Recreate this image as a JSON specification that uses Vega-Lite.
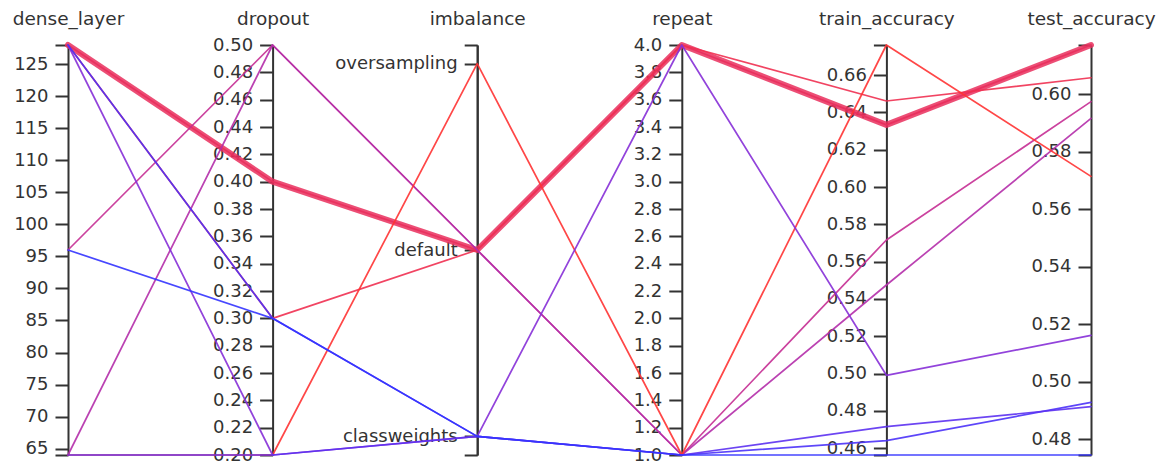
{
  "$schema": "https://vega.github.io/schema/vega-lite/v6.json",
  "width": 1023,
  "height": 410,
  "autosize": {"type": "none"},
  "padding": {"left": 68, "top": 45, "right": 72, "bottom": 11},
  "background": "white",
  "config": {
    "view": {"stroke": null},
    "font": "DejaVu Sans",
    "axis": {
      "grid": false,
      "domainColor": "#333333",
      "domainWidth": 2,
      "tickColor": "#333333",
      "tickWidth": 2,
      "tickSize": 13,
      "labelFont": "DejaVu Sans",
      "labelFontSize": 18,
      "labelColor": "#333333",
      "labelPadding": 7,
      "labelOverlap": false,
      "labelBound": false,
      "titleFont": "DejaVu Sans",
      "titleFontSize": 18.5,
      "titleFontWeight": "normal",
      "titleColor": "#333333",
      "titleAngle": 0,
      "titleX": 0,
      "titleY": -21,
      "titleAlign": "center",
      "titleBaseline": "alphabetic"
    }
  },
  "data": {
    "values": [
      {"dense_layer": 128, "dropout": 0.4, "imbalance": "default", "repeat": 4, "train_accuracy": 0.6333, "test_accuracy": 0.6171},
      {"dense_layer": 128, "dropout": 0.3, "imbalance": "default", "repeat": 4, "train_accuracy": 0.6461, "test_accuracy": 0.6057},
      {"dense_layer": 96, "dropout": 0.5, "imbalance": "default", "repeat": 1, "train_accuracy": 0.5716, "test_accuracy": 0.5974},
      {"dense_layer": 64, "dropout": 0.5, "imbalance": "default", "repeat": 1, "train_accuracy": 0.5475, "test_accuracy": 0.5916},
      {"dense_layer": 64, "dropout": 0.2, "imbalance": "oversampling", "repeat": 1, "train_accuracy": 0.6761, "test_accuracy": 0.5714},
      {"dense_layer": 128, "dropout": 0.2, "imbalance": "classweights", "repeat": 4, "train_accuracy": 0.4991, "test_accuracy": 0.5161},
      {"dense_layer": 128, "dropout": 0.3, "imbalance": "classweights", "repeat": 1, "train_accuracy": 0.4641, "test_accuracy": 0.4928},
      {"dense_layer": 64, "dropout": 0.2, "imbalance": "classweights", "repeat": 1, "train_accuracy": 0.4716, "test_accuracy": 0.4913},
      {"dense_layer": 96, "dropout": 0.3, "imbalance": "classweights", "repeat": 1, "train_accuracy": 0.4564, "test_accuracy": 0.4745}
    ]
  },
  "layer": [
    {
      "transform": [
        {"window": [{"op": "row_number", "as": "run"}]},
        {"filter": "datum.test_accuracy > 0.615"},
        {"fold": ["dense_layer", "dropout", "imbalance", "repeat", "train_accuracy", "test_accuracy"]},
        {"calculate": "datum.key === 'imbalance' ? 1 - (indexof(['oversampling','default','classweights'], datum.value) + 0.1) / 2.2 : (datum.key === 'dense_layer' ? (datum.value - 64) / 64 : datum.key === 'dropout' ? (datum.value - 0.2) / 0.3 : datum.key === 'repeat' ? (datum.value - 1) / 3 : datum.key === 'train_accuracy' ? (datum.value - 0.4564) / (0.6761 - 0.4564) : (datum.value - 0.4745) / (0.6171 - 0.4745))", "as": "norm"}
      ],
      "mark": {"type": "line", "strokeCap": "round", "strokeJoin": "round", "strokeWidth": 6, "opacity": 0.85},
      "encoding": {
        "x": {"field": "key", "type": "nominal", "scale": {"type": "point", "padding": 0, "domain": ["dense_layer", "dropout", "imbalance", "repeat", "train_accuracy", "test_accuracy"]}, "axis": null},
        "y": {"field": "norm", "type": "quantitative", "scale": {"domain": [0, 1], "nice": false, "zero": false}, "axis": null},
        "color": {"field": "train_accuracy", "type": "quantitative", "scale": {"domain": [0.4564, 0.6761], "range": ["#3333ff", "#ff3333"], "interpolate": "lab"}, "legend": null},
        "detail": {"field": "run", "type": "nominal"},
        "order": {"value": null}
      }
    },
    {
      "transform": [
        {"window": [{"op": "row_number", "as": "run"}]},
        {"fold": ["dense_layer", "dropout", "imbalance", "repeat", "train_accuracy", "test_accuracy"]},
        {"calculate": "datum.key === 'imbalance' ? 1 - (indexof(['oversampling','default','classweights'], datum.value) + 0.1) / 2.2 : (datum.key === 'dense_layer' ? (datum.value - 64) / 64 : datum.key === 'dropout' ? (datum.value - 0.2) / 0.3 : datum.key === 'repeat' ? (datum.value - 1) / 3 : datum.key === 'train_accuracy' ? (datum.value - 0.4564) / (0.6761 - 0.4564) : (datum.value - 0.4745) / (0.6171 - 0.4745))", "as": "norm"}
      ],
      "mark": {"type": "line", "strokeCap": "round", "strokeJoin": "round", "strokeWidth": 1.7, "opacity": 0.9},
      "encoding": {
        "x": {"field": "key", "type": "nominal", "scale": {"type": "point", "padding": 0, "domain": ["dense_layer", "dropout", "imbalance", "repeat", "train_accuracy", "test_accuracy"]}, "axis": null},
        "y": {"field": "norm", "type": "quantitative", "scale": {"domain": [0, 1], "nice": false, "zero": false}, "axis": {"orient": "left", "offset": -409.2, "values": [0, 1], "labels": false, "title": null}},
        "color": {"field": "train_accuracy", "type": "quantitative", "scale": {"domain": [0.4564, 0.6761], "range": ["#3333ff", "#ff3333"], "interpolate": "lab"}, "legend": null},
        "detail": {"field": "run", "type": "nominal"},
        "order": {"value": null}
      }
    },
    {
      "mark": {"type": "point", "opacity": 0},
      "encoding": {
        "y": {"field": "dense_layer", "type": "quantitative", "scale": {"domain": [64, 128], "zero": false, "nice": false},
          "axis": {"orient": "left", "offset": 0, "title": "dense_layer", "values": [64, 65, 70, 75, 80, 85, 90, 95, 100, 105, 110, 115, 120, 125, 128], "format": "d", "labelExpr": "datum.value == 64 || datum.value == 128 ? '' : datum.label"}}
      }
    },
    {
      "mark": {"type": "point", "opacity": 0},
      "encoding": {
        "y": {"field": "dropout", "type": "quantitative", "scale": {"domain": [0.2, 0.5], "zero": false, "nice": false},
          "axis": {"orient": "left", "offset": -204.6, "title": "dropout", "values": [0.2, 0.22, 0.24, 0.26, 0.28, 0.3, 0.32, 0.34, 0.36, 0.38, 0.4, 0.42, 0.44, 0.46, 0.48, 0.5], "format": ".2f"}}
      }
    },
    {
      "mark": {"type": "point", "opacity": 0},
      "encoding": {
        "y": {"field": "imbalance", "type": "nominal", "scale": {"type": "point", "padding": 0.1, "domain": ["oversampling", "default", "classweights"]},
          "axis": {"orient": "left", "offset": -409.2, "title": "imbalance"}}
      }
    },
    {
      "mark": {"type": "point", "opacity": 0},
      "encoding": {
        "y": {"field": "repeat", "type": "quantitative", "scale": {"domain": [1, 4], "zero": false, "nice": false},
          "axis": {"orient": "left", "offset": -613.8, "title": "repeat", "values": [1, 1.2, 1.4, 1.6, 1.8, 2, 2.2, 2.4, 2.6, 2.8, 3, 3.2, 3.4, 3.6, 3.8, 4], "format": ".1f"}}
      }
    },
    {
      "mark": {"type": "point", "opacity": 0},
      "encoding": {
        "y": {"field": "train_accuracy", "type": "quantitative", "scale": {"domain": [0.4564, 0.6761], "zero": false, "nice": false},
          "axis": {"orient": "left", "offset": -818.4, "title": "train_accuracy", "values": [0.4564, 0.46, 0.48, 0.5, 0.52, 0.54, 0.56, 0.58, 0.6, 0.62, 0.64, 0.66, 0.6761], "format": ".2f", "labelExpr": "datum.value < 0.458 || datum.value > 0.67 ? '' : datum.label"}}
      }
    },
    {
      "mark": {"type": "point", "opacity": 0},
      "encoding": {
        "y": {"field": "test_accuracy", "type": "quantitative", "scale": {"domain": [0.4745, 0.6171], "zero": false, "nice": false},
          "axis": {"orient": "left", "offset": -1023, "title": "test_accuracy", "values": [0.4745, 0.48, 0.5, 0.52, 0.54, 0.56, 0.58, 0.6, 0.6171], "format": ".2f", "labelExpr": "datum.value < 0.476 || datum.value > 0.61 ? '' : datum.label"}}
      }
    }
  ],
  "resolve": {"scale": {"y": "independent", "color": "shared"}}
}
